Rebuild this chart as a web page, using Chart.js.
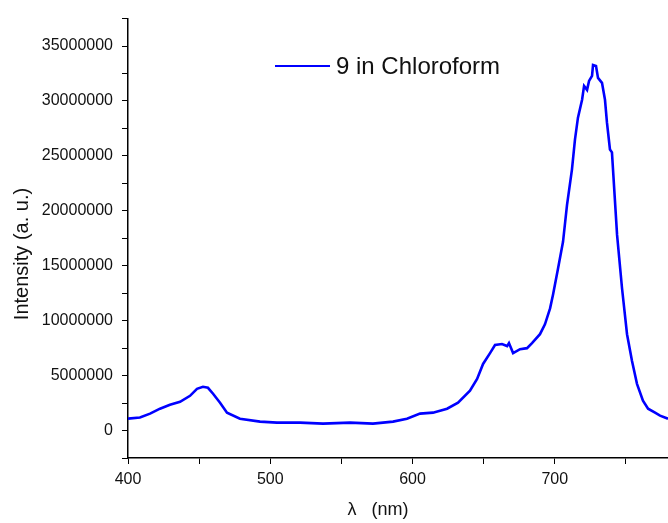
<!DOCTYPE html>
<html>
<head>
<meta charset="utf-8">
<script src="https://cdn.jsdelivr.net/npm/chart.js@4.4.0/dist/chart.umd.min.js"></script>
<style>
  html, body { margin: 0; padding: 0; background: #fff; }
  #wrap { width: 668px; height: 523px; }
</style>
</head>
<body>
<div id="wrap"><canvas id="spectrum"></canvas></div>
<script>
// emission spectrum
const seriesLabel = '9 in Chloroform';
const xTitle = '\u03bb   (nm)';
const yTitle = 'Intensity (a. u.)';
const wavelength = [400, 408.4, 415.5, 422.5, 429.5, 436.6, 443.6, 448.5, 452.7, 456.2, 459.8, 464.7,
  469.6, 478.7, 492.8, 504.7, 520.9, 537.1, 556.1, 572.2, 586.3, 596.1, 605.3, 614.4, 624.3, 632,
  640.4, 645.4, 649.6, 654.5, 658, 662.9, 666.5, 667.8, 670.7, 675.6, 680.5, 684, 689.6, 693.1,
  696.7, 698.8, 702.3, 705.8, 708.6, 712.1, 714.2, 716.3, 719.2, 720.6, 722.7, 724.1, 726.2, 726.9,
  729, 730.4, 733.2, 735.3, 736.7, 738.8, 740.2, 743.8, 747.3, 750.8, 754.3, 757.8, 762, 765.6,
  770.5, 774, 779.6];
const intensity = [1080000, 1180000, 1540000, 1990000, 2350000, 2620000, 3160000, 3800000, 3980000,
  3890000, 3350000, 2530000, 1630000, 1080000, 810000, 720000, 720000, 630000, 720000, 630000,
  810000, 1080000, 1540000, 1630000, 1990000, 2530000, 3620000, 4700000, 6060000, 7050000, 7780000,
  7870000, 7690000, 7960000, 7050000, 7410000, 7500000, 7960000, 8770000, 9670000, 11120000,
  12390000, 14740000, 17180000, 20520000, 23780000, 26490000, 28480000, 30110000, 31370000,
  31010000, 31830000, 32280000, 33270000, 33180000, 32100000, 31650000, 30110000, 28030000,
  25590000, 25320000, 17810000, 12930000, 8770000, 6330000, 4250000, 2710000, 1990000, 1630000,
  1360000, 1080000];
const xTickLabels = [400, 500, 600, 700];
const yTickStep = 5000000;

const points = wavelength.map((w, i) => ({ x: w, y: intensity[i] }));
const font = "'Liberation Sans', Arial, sans-serif";

// legend and axis titles drawn by hand, Origin style
const extras = {
  id: 'extras',
  afterDraw: (chart) => {
    const c = chart.ctx;
    c.save();
    c.strokeStyle = '#0000ff';
    c.lineWidth = 2;
    c.beginPath();
    c.moveTo(275, 66);
    c.lineTo(330, 66);
    c.stroke();
    c.fillStyle = '#111';
    c.textBaseline = 'middle';
    c.font = '24px ' + font;
    c.fillText(seriesLabel, 336, 67);
    c.textAlign = 'center';
    c.font = '18px ' + font;
    c.fillText(xTitle, 378, 510);
    c.translate(22, 254);
    c.rotate(-Math.PI / 2);
    c.font = '20px ' + font;
    c.fillText(yTitle, 0, 0);
    c.restore();
  }
};

new Chart(document.getElementById('spectrum'), {
  type: 'line',
  data: {
    datasets: [{
      label: seriesLabel,
      data: points,
      borderColor: '#0000ff',
      borderWidth: 2.6,
      pointRadius: 0,
      fill: false,
      tension: 0
    }]
  },
  plugins: [extras],
  options: {
    responsive: true,
    maintainAspectRatio: false,
    animation: false,
    layout: { padding: { top: 13, right: 0, left: 0, bottom: 0 } },
    plugins: {
      legend: { display: false },
      tooltip: { enabled: false }
    },
    scales: {
      x: {
        type: 'linear',
        min: 400,
        max: 779.6,
        afterFit: (s) => { s.height = 65; },
        border: { display: true, color: '#000', width: 1.5 },
        grid: { drawOnChartArea: false, drawTicks: true, tickLength: 6, color: '#000' },
        ticks: {
          stepSize: 50,
          includeBounds: false,
          autoSkip: false,
          maxRotation: 0,
          padding: 6,
          color: '#111',
          font: { family: font, size: 16 },
          callback: (v) => xTickLabels.includes(v) ? String(v) : ''
        }
      },
      y: {
        min: -2500000,
        max: 37500000,
        afterFit: (s) => { s.width = 128; },
        border: { display: true, color: '#000', width: 1.5 },
        grid: { drawOnChartArea: false, drawTicks: true, tickLength: 6, color: '#000' },
        ticks: {
          stepSize: 2500000,
          autoSkip: false,
          padding: 9,
          color: '#111',
          font: { family: font, size: 16 },
          callback: (v) => (v >= 0 && v % yTickStep === 0) ? String(v) : ''
        }
      }
    }
  }
});
</script>
</body>
</html>
